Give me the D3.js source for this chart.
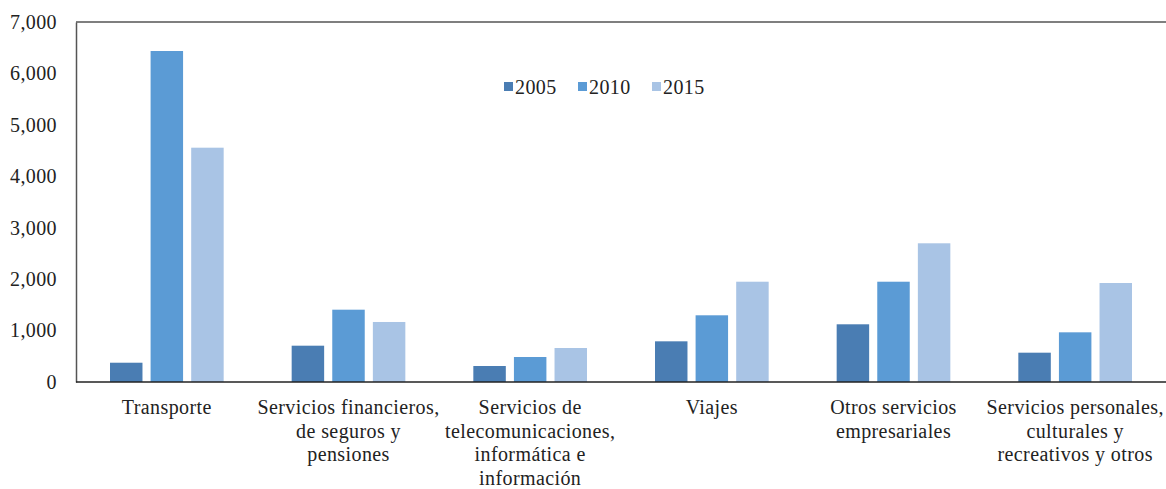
<!DOCTYPE html>
<html><head><meta charset="utf-8">
<script src="https://cdn.jsdelivr.net/npm/d3@7"></script>
<style>body{margin:0;background:#fff}svg{display:block}svg text{font-family:'Liberation Serif','Times New Roman','DejaVu Serif',serif !important;fill:#222;letter-spacing:0.4px}</style>
</head><body><svg id="c" width="1166" height="489"></svg>
<script>
const categories = [
  ["Transporte"],
  ["Servicios financieros,", "de seguros y", "pensiones"],
  ["Servicios de", "telecomunicaciones,", "informática e", "información"],
  ["Viajes"],
  ["Otros servicios", "empresariales"],
  ["Servicios personales,", "culturales y", "recreativos y otros"]
];
const seriesNames = ["2005", "2010", "2015"];
const v2005 = [375, 706, 311, 791, 1122, 570];
const v2010 = [6436, 1406, 486, 1297, 1950, 966];
const v2015 = [4556, 1167, 661, 1950, 2697, 1925];
const yTicks = [0, 1000, 2000, 3000, 4000, 5000, 6000, 7000];
const colors = ["#4a7db3", "#5b9bd5", "#a9c4e5"];

const svg = d3.select("#c");
const m = {l: 76, r: 0, t: 22, b: 107};
const W = 1166, H = 489;
const x0 = d3.scaleBand().domain(d3.range(categories.length)).range([m.l, W - m.r]).paddingInner(0).paddingOuter(0);
const x1 = d3.scaleBand().domain(seriesNames).range([34, x0.bandwidth() - 34]).paddingInner(0.2).paddingOuter(0);
const y = d3.scaleLinear().domain([0, 7000]).range([H - m.b, m.t]);
const series = [v2005, v2010, v2015];

series.forEach((vals, si) => {
  svg.append("g").selectAll("rect").data(vals).join("rect")
    .attr("x", (d, i) => x0(i) + x1(seriesNames[si]))
    .attr("width", x1.bandwidth())
    .attr("y", d => y(d))
    .attr("height", d => y(0) - y(d))
    .attr("fill", colors[si]);
});

const ya = svg.append("g").attr("transform", `translate(${m.l},0)`)
  .call(d3.axisLeft(y).tickValues(yTicks).tickSize(0).tickPadding(19).tickFormat(d3.format(",")));
ya.attr("font-family", null).attr("font-size", null);
ya.select(".domain").attr("stroke", "#555").attr("stroke-width", 1.5);
ya.selectAll("text").style("font-size", "20px").attr("fill", "#222");

svg.append("line").attr("x1", m.l).attr("x2", W).attr("y1", y(7000)).attr("y2", y(7000)).attr("stroke", "#555").attr("stroke-width", 1.5);
svg.append("line").attr("x1", m.l).attr("x2", W).attr("y1", y(0)).attr("y2", y(0)).attr("stroke", "#222").attr("stroke-width", 1.5);

const cl = svg.append("g").selectAll("text").data(categories).join("text")
  .attr("text-anchor", "middle").style("font-size", "20px")
  .attr("transform", (d, i) => `translate(${x0(i) + x0.bandwidth() / 2},${y(0) + 32})`);
cl.selectAll("tspan").data(d => d).join("tspan")
  .attr("x", 0).attr("y", (d, i) => i * 23.5).text(d => d);

const lg = svg.append("g").attr("transform", "translate(504,87)");
const lx = [0, 74, 148];
seriesNames.forEach((s, i) => {
  lg.append("rect").attr("x", lx[i]).attr("y", -5).attr("width", 9).attr("height", 9).attr("fill", colors[i]);
  lg.append("text").attr("x", lx[i] + 11).attr("y", 7).style("font-size", "20px").text(s);
});
</script></body></html>
